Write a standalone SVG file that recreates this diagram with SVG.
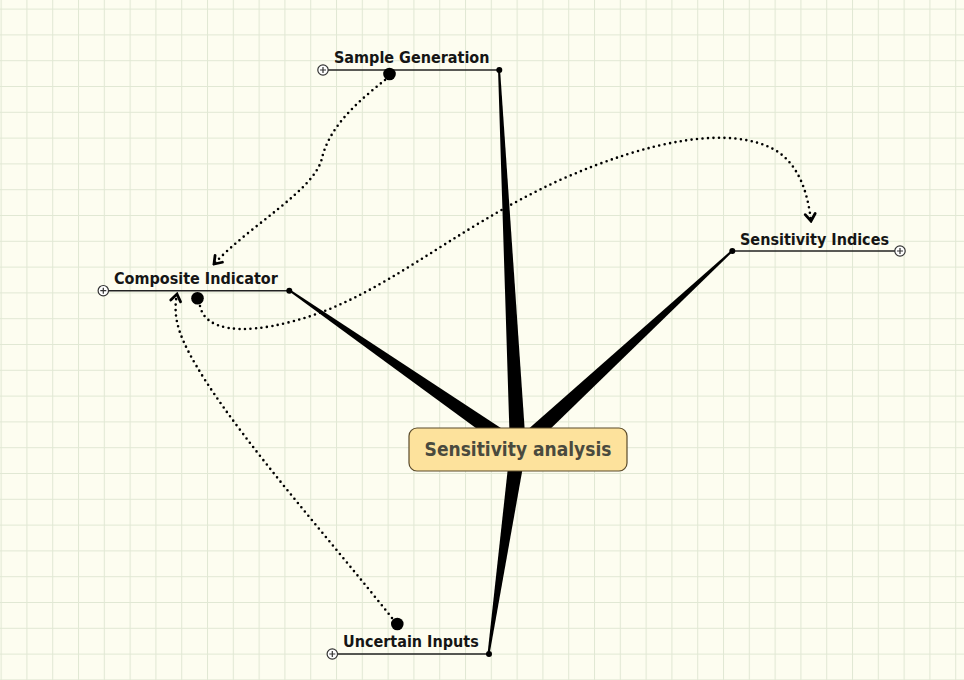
<svg xmlns="http://www.w3.org/2000/svg" width="964" height="680" viewBox="0 0 964 680">
  <defs>
    <pattern id="grid" patternUnits="userSpaceOnUse" x="0.6" y="8.6" width="25.8" height="25.8">
      <rect width="25.8" height="25.8" fill="#fdfdf0"/>
      <line x1="0" y1="0" x2="25.8" y2="0" stroke="#e1e8d4" stroke-width="2"/>
      <line x1="0" y1="0" x2="0" y2="25.8" stroke="#e1e8d4" stroke-width="2"/>
    </pattern>
    <marker id="arr" viewBox="-9 -7 11 14" markerWidth="11" markerHeight="14" refX="0" refY="0" orient="auto" markerUnits="userSpaceOnUse">
      <path d="M-7,-5 L0,0 L-7,5" fill="none" stroke="#000" stroke-width="2.8" stroke-dasharray="none" stroke-linecap="round" stroke-linejoin="miter"/>
    </marker>
  </defs>
  <style>
    .lbl { font-family: "DejaVu Sans Condensed", "DejaVu Sans", sans-serif; font-stretch: condensed; font-weight: bold; font-size: 16px; fill: #151515; }
    .ctr { font-family: "DejaVu Sans Condensed", "DejaVu Sans", sans-serif; font-stretch: condensed; font-weight: bold; font-size: 19px; fill: #4a4a3e; }
    .uline { stroke: #222; stroke-width: 1.5; fill: none; }
    .dot { fill: #000; }
    .plus { fill: #fff; stroke: #333; stroke-width: 1.2; }
    .plusx { stroke: #333; stroke-width: 1.2; }
    .rel { fill: none; stroke: #000; stroke-width: 2.6; stroke-dasharray: 0 5.5; stroke-linecap: round; marker-end: url(#arr); }
    .wedge { fill: #000; }
  </style>
  <rect width="964" height="680" fill="url(#grid)"/>

  <g id="branches">
    <polygon class="wedge" points="498,69 500,69 526,448.6 510,449.4"/>
    <polygon class="wedge" points="288.4,290.8 289.6,289.2 522.6,442.4 513.4,455.6"/>
    <polygon class="wedge" points="731.3,250.3 732.7,251.7 523.5,454.9 512.5,443.1"/>
    <polygon class="wedge" points="487.5,654 489.5,654.2 525.9,450.2 510.1,447.8"/>
  </g>

  <g id="center">
    <rect x="409" y="428" width="218" height="43" rx="8" ry="8" fill="#fde29c" stroke="#5a4a2a" stroke-width="1.2"/>
    <text class="ctr" x="518" y="456" text-anchor="middle">Sensitivity analysis</text>
  </g>

  <g id="node-sample-generation">
    <line class="uline" x1="323" y1="70" x2="499" y2="70"/>
    <text class="lbl" x="334" y="63">Sample Generation</text>
    <circle class="dot" cx="499.3" cy="70" r="3"/>
    <circle class="plus" cx="323" cy="70" r="5.2"/>
    <path class="plusx" d="M320,70 H326 M323,67 V73"/>
  </g>

  <g id="node-composite-indicator">
    <line class="uline" x1="103" y1="290.7" x2="289" y2="290.7"/>
    <text class="lbl" x="114" y="284">Composite Indicator</text>
    <circle class="dot" cx="289.3" cy="290.7" r="3"/>
    <circle class="plus" cx="103.3" cy="290.7" r="5.2"/>
    <path class="plusx" d="M100.3,290.7 H106.3 M103.3,287.7 V293.7"/>
  </g>

  <g id="node-sensitivity-indices">
    <line class="uline" x1="732" y1="251" x2="900" y2="251"/>
    <text class="lbl" x="740" y="244.5">Sensitivity Indices</text>
    <circle class="dot" cx="732.3" cy="251" r="3"/>
    <circle class="plus" cx="900" cy="251" r="5.2"/>
    <path class="plusx" d="M897,251 H903 M900,248 V254"/>
  </g>

  <g id="node-uncertain-inputs">
    <line class="uline" x1="332" y1="654" x2="489" y2="654"/>
    <text class="lbl" x="343" y="647">Uncertain Inputs</text>
    <circle class="dot" cx="489" cy="654" r="3"/>
    <circle class="plus" cx="332.3" cy="654" r="5.2"/>
    <path class="plusx" d="M329.3,654 H335.3 M332.3,651 V657"/>
  </g>

  <g id="connectors">
    <path class="rel" d="M385,80 C360,100 330,125 322,158 C315,190 250,225 214,264"/>
    <path class="rel" d="M200,306 C205,330 240,335 290,322 C380,300 450,230 560,180 C650,140 730,125 775,150 C800,165 808,195 811,221"/>
    <path class="rel" d="M392,618 C330,540 250,450 205,380 C180,340 172,320 177,294"/>
    <circle class="dot" cx="389.5" cy="74" r="6.3"/>
    <circle class="dot" cx="197.5" cy="298.3" r="6.3"/>
    <circle class="dot" cx="397.3" cy="624" r="6.3"/>
  </g>
</svg>
